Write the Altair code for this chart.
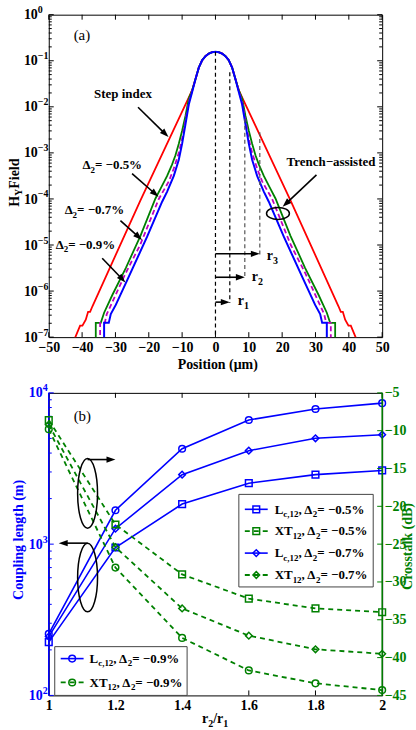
import math
import altair as alt
import pandas as pd

FONT = "Liberation Serif"
BLUE, GREEN, RED, MAG = "#0000ff", "#008000", "#ff0000", "#bf00bf"

# ---------------- Panel (a): H_Y field profiles (position in um, log10 of field)
RED_POS = [-42.6, -40.6, -39.9, -38.9, -38.2, -37.6, -36.9, -22.5, -7.5, -7, -6,
           -5, -4, -3, -2, -1, 0, 1, 2, 3, 4, 5,
           6, 7, 7.5, 22.5, 36.9, 37.6, 38.2, 38.9, 39.9, 40.6, 42.6]
RED_LOG = [-7.1, -6.75, -6.75, -6.62, -6.45, -6.45, -6.33, -4.03, -1.72, -1.64, -1.40,
           -1.15, -0.99, -0.90, -0.845, -0.815, -0.806, -0.815, -0.845, -0.90, -0.99, -1.15,
           -1.40, -1.64, -1.72, -4.03, -6.33, -6.45, -6.45, -6.62, -6.75, -6.75, -7.1]

GREEN_POS = [-35.9, -35.9, -34.4, -33.4, -30.9, -26.9, -22.5, -18, -16.5, -14.5, -13, -12, -11, -10, -9, -8, -7, -6,
             -5, -4, -3, -2, -1, 0, 1, 2, 3, 4, 5,
             6, 7, 8, 9, 10, 11, 12, 13, 14.5, 16.5, 18, 22.5, 26.9, 30.9, 33.4, 34.4, 35.9, 35.9]
GREEN_LOG = [-7.3, -6.69, -6.69, -6.47, -6.08, -5.5, -4.8, -3.99, -3.78, -3.5, -3.25, -3.05, -2.8, -2.52, -2.2, -1.82, -1.64, -1.40,
             -1.15, -0.99, -0.90, -0.845, -0.815, -0.806, -0.815, -0.845, -0.90, -0.99, -1.15,
             -1.40, -1.64, -1.82, -2.2, -2.52, -2.8, -3.05, -3.25, -3.5, -3.78, -3.99, -4.8, -5.5, -6.08, -6.47, -6.69, -6.69, -7.3]

MAG_POS = [-34.6, -34.6, -33.2, -32.6, -31, -27, -22.6, -17, -14, -12.5, -11, -10, -9, -8, -7, -6,
           -5, -4, -3, -2, -1, 0, 1, 2, 3, 4, 5,
           6, 7, 8, 9, 10, 11, 12.5, 14, 17, 22.6, 27, 31, 32.6, 33.2, 34.6, 34.6]
MAG_LOG = [-7.3, -6.69, -6.69, -6.5, -6.25, -5.62, -5.0, -4.0, -3.62, -3.34, -3.0, -2.7, -2.3, -1.9, -1.66, -1.40,
           -1.15, -0.99, -0.90, -0.845, -0.815, -0.806, -0.815, -0.845, -0.90, -0.99, -1.15,
           -1.40, -1.66, -1.9, -2.3, -2.7, -3.0, -3.34, -3.62, -4.0, -5.0, -5.62, -6.25, -6.5, -6.69, -6.69, -7.3]

BLUE_POS = [-33.4, -33.4, -32, -31.4, -29.9, -26.4, -20.5, -16, -14.5, -12.5, -11, -10, -9, -8, -7, -6,
            -5, -4, -3, -2, -1, 0, 1, 2, 3, 4, 5,
            6, 7, 8, 9, 10, 11, 12.5, 14.5, 16, 20.5, 26.4, 29.9, 31.4, 32, 33.4, 33.4]
BLUE_LOG = [-7.3, -6.69, -6.69, -6.5, -6.3, -5.75, -4.82, -4.06, -3.84, -3.5, -3.15, -2.8, -2.38, -1.95, -1.68, -1.40,
            -1.15, -0.99, -0.90, -0.845, -0.815, -0.806, -0.815, -0.845, -0.90, -0.99, -1.15,
            -1.40, -1.68, -1.95, -2.38, -2.8, -3.15, -3.5, -3.84, -4.06, -4.82, -5.75, -6.3, -6.5, -6.69, -6.69, -7.3]

R_POS = [0, 4.3, 8.8, 13.3]             # dashed guide lines (0, r1, r2, r3)
R_TOP = [-0.806, -1.25, -2.26, -2.55]
R_BOT = [-7.0, -6.26, -5.72, -5.21]
R_ARROW_LOG = [-6.24, -5.70, -5.19]     # r1, r2, r3 arrow heights

XTICKS_A = [-50, -40, -30, -20, -10, 0, 10, 20, 30, 40, 50]
YEXP_A = [0, -1, -2, -3, -4, -5, -6, -7]
YEXP_A_LABELS = ["0", "−1", "−2", "−3", "−4", "−5", "−6", "−7"]

# ---------------- Panel (b): coupling length and crosstalk vs r2/r1
R_RATIO = [1.0, 1.2, 1.4, 1.6, 1.8, 2.0]
LC_05 = [225, 950, 1840, 2530, 2880, 3070]
LC_07 = [245, 1265, 2880, 4150, 5010, 5290]
LC_09 = [255, 1675, 4270, 6620, 7820, 8550]
XT_05 = [-8.6, -22.4, -29.0, -32.2, -33.5, -34.0]
XT_07 = [-9.2, -25.4, -33.5, -37.1, -38.9, -39.5]
XT_09 = [-9.8, -28.1, -37.4, -41.7, -43.4, -44.3]
XTICKS_B = [1, 1.2, 1.4, 1.6, 1.8, 2]
YTICKS_BR = [-45, -40, -35, -30, -25, -20, -15, -10, -5]
YEXP_B = [2, 3, 4]

# ---------------- layout
W, HA, HB = 335, 324, 304
OX, OYA, OYB = 48, 12, 392

CW = {' ': 0.25, '%': 1.0, '(': 0.333, ')': 0.333, ',': 0.25, '−': 0.57, '.': 0.25, '/': 0.278,
      '=': 0.57, 'Δ': 0.612, 'μ': 0.556, 'B': 0.667, 'C': 0.722, 'F': 0.611, 'H': 0.778,
      'L': 0.667, 'P': 0.611, 'S': 0.556, 'T': 0.667, 'X': 0.722, 'Y': 0.722, 'a': 0.5,
      'b': 0.556, 'c': 0.444, 'd': 0.556, 'e': 0.444, 'g': 0.5, 'h': 0.556, 'i': 0.278,
      'k': 0.556, 'l': 0.278, 'm': 0.833, 'n': 0.556, 'o': 0.5, 'p': 0.556, 'r': 0.444,
      's': 0.389, 't': 0.333, 'u': 0.556, 'x': 0.5}


def tw(s, size):
    return sum(CW.get(ch, 0.5) for ch in s) * size


def run(x0, yc, parts, color, oy, size=13, sub=9):
    rows, x, base = [], x0, yc + 0.33 * size
    for t, k in parts:
        s = size if k == 'n' else sub
        y = base if k == 'n' else base + 0.27 * size
        rows.append({'x': x - OX, 'y': y - oy, 't': t, 's': s, 'c': color})
        x += tw(t, s)
    return rows


def vrun(xc, y0, parts, color, oy, size=14, sub=10):
    rows, y, bx = [], y0, xc + 0.33 * size
    for t, k in parts:
        s = size if k == 'n' else sub
        x = bx if k == 'n' else bx + 0.27 * size
        rows.append({'x': x - OX, 'y': y - oy, 't': t, 's': s, 'c': color})
        y -= tw(t, s)
    return rows


def PX(f):
    return alt.X(f, scale=None, axis=None)


def PY(f):
    return alt.Y(f, scale=None, axis=None)


def text_layer(rows, angle=0, weight='bold'):
    kw = dict(align='left', baseline='alphabetic', font=FONT, fontWeight=weight)
    if angle:
        kw['angle'] = angle
    return alt.Chart(pd.DataFrame(rows)).mark_text(**kw).encode(
        x=PX('x:Q'), y=PY('y:Q'), text='t:N',
        size=alt.Size('s:Q', scale=None), color=alt.Color('c:N', scale=None))


HEAD = "M0,0L0.7,2L-0.7,2Z"


def arrows(arrs, oy, hl=9, sw=1.6):
    rr, hh = [], []
    for (x1, y1, x2, y2) in arrs:
        dx, dy = x2 - x1, y2 - y1
        L = math.hypot(dx, dy)
        ux, uy = dx / L, dy / L
        rr.append({'x': x1 - OX, 'y': y1 - oy, 'x2': x2 - OX - ux * hl * 0.6, 'y2': y2 - oy - uy * hl * 0.6})
        hh.append({'x': x2 - OX, 'y': y2 - oy, 'a': (math.degrees(math.atan2(dx, -dy)) + 360) % 360})
    rules = alt.Chart(pd.DataFrame(rr)).mark_rule(color='black', strokeWidth=sw).encode(
        x=PX('x:Q'), y=PY('y:Q'), x2='x2:Q', y2='y2:Q')
    heads = alt.Chart(pd.DataFrame(hh)).mark_point(
        shape=HEAD, size=hl * hl, filled=True, color='black', opacity=1, strokeWidth=0).encode(
        x=PX('x:Q'), y=PY('y:Q'), angle=alt.Angle('a:Q', scale=None))
    return [rules, heads]


def ellipse(cx, cy, rx, ry, oy, sw=1.5):
    m = max(rx, ry)
    a, b = rx / m, ry / m
    path = f"M{-a:.3f},0A{a:.3f},{b:.3f},0,1,0,{a:.3f},0A{a:.3f},{b:.3f},0,1,0,{-a:.3f},0Z"
    return alt.Chart(pd.DataFrame({'x': [cx - OX], 'y': [cy - oy]})).mark_point(
        shape=path, size=(2 * m) ** 2, filled=False, color='black', strokeWidth=sw, opacity=1).encode(
        x=PX('x:Q'), y=PY('y:Q'))


def xa(p):
    return OX + (p + 50) / 100 * W


def ya(lg):
    return OYA - lg / 7 * HA


# ================= Panel (a)
xA = alt.Scale(domain=[-50, 50], nice=False, zero=False)
yA = alt.Scale(type='log', domain=[1e-7, 1], nice=False)
axA = alt.Axis(values=XTICKS_A, format='d', title=None, domain=False, ticks=False, grid=False,
               labelFlush=False, labelOverlap=False, labelPadding=3, labelFont=FONT,
               labelFontWeight='bold', labelFontSize=14, labelColor='black')


def XA():
    return alt.X('pos:Q', scale=xA, axis=axA)


def YA(f='H:Q'):
    return alt.Y(f, scale=yA, axis=None)


def curve(pos, lg, color, dash=None, sw=1.8):
    df = pd.DataFrame({'pos': pos, 'H': [10 ** v for v in lg], 'i': list(range(len(pos)))})
    kw = dict(color=color, strokeWidth=sw, clip=True)
    if dash:
        kw['strokeDash'] = dash
    return alt.Chart(df).mark_line(**kw).encode(x=XA(), y=YA(), order='i:Q')


bound = alt.Chart(pd.DataFrame({'k': [0]})).mark_rect(opacity=0).encode(
    x=alt.value(-OX), x2=alt.value(416 - OX), y=alt.value(-OYA), y2=alt.value(730 - OYA))

rdf = pd.DataFrame({'pos': R_POS, 'H': [10 ** v for v in R_TOP], 'H2': [10 ** v for v in R_BOT],
                    'c': ['black', 'black', '#555555', '#555555']})
rlines = alt.Chart(rdf).mark_rule(strokeDash=[4, 3], strokeWidth=1.2).encode(
    x=XA(), y=YA(), y2='H2:Q', color=alt.Color('c:N', scale=None))

tA = pd.DataFrame({'pos': XTICKS_A})
a_ticks = [
    alt.Chart(tA).mark_rule(color='black').encode(x=XA(), y=alt.value(HA), y2=alt.value(HA - 5)),
    alt.Chart(tA).mark_rule(color='black').encode(x=XA(), y=alt.value(0), y2=alt.value(5)),
]
majA = pd.DataFrame({'H': [10.0 ** e for e in YEXP_A]})
minA = pd.DataFrame({'H': [m * 10.0 ** e for e in range(-7, 0) for m in range(2, 10)]})
for df, L in ((majA, 5), (minA, 3)):
    a_ticks.append(alt.Chart(df).mark_rule(color='black').encode(y=YA(), x=alt.value(0), x2=alt.value(L)))
    a_ticks.append(alt.Chart(df).mark_rule(color='black').encode(y=YA(), x=alt.value(W - L), x2=alt.value(W)))

labA = pd.DataFrame({'H': [10.0 ** e for e in YEXP_A], 'e': YEXP_A_LABELS})
a_labels = [
    alt.Chart(labA).mark_text(align='left', baseline='alphabetic', font=FONT, fontWeight='bold',
                              fontSize=14, dy=4.6, color='black').encode(
        y=YA(), x=alt.value(-25), text=alt.value('10')),
    alt.Chart(labA).mark_text(align='left', baseline='alphabetic', font=FONT, fontWeight='bold',
                              fontSize=10, dy=-1.5, color='black').encode(
        y=YA(), x=alt.value(-11), text='e:N'),
]

txtA = []
txtA += run(93.5, 91.5, [("Step index", 'n')], 'black', OYA)
txtA += run(82, 163, [("Δ", 'n'), ("2", 'sub'), ("= −0.5%", 'n')], 'black', OYA)
txtA += run(64, 208, [("Δ", 'n'), ("2", 'sub'), ("= −0.7%", 'n')], 'black', OYA)
txtA += run(55, 243, [("Δ", 'n'), ("2", 'sub'), ("= −0.9%", 'n')], 'black', OYA)
txtA += run(287, 160, [("Trench−assisted", 'n')], 'black', OYA)
txtA += run(267, 254, [("r", 'n'), ("3", 'sub')], 'black', OYA, size=14, sub=10)
txtA += run(252, 275, [("r", 'n'), ("2", 'sub')], 'black', OYA, size=14, sub=10)
txtA += run(238, 299, [("r", 'n'), ("1", 'sub')], 'black', OYA, size=14, sub=10)
txtA += run(177.5, 363, [("Position (μm)", 'n')], 'black', OYA, size=14)
vA = vrun(13, 205, [("H", 'n'), ("Y", 'sub'), (" Field", 'n')], 'black', OYA)
lblA = run(73, 32, [("(a)", 'n')], 'black', OYA, size=15)

arrA = [(137.7, 105, 168.3, 135), (131.7, 171.7, 158.3, 195), (120, 219, 141.7, 238.3),
        (101.7, 256.7, 125, 281), (317, 173, 283, 205)]
for r, lg in zip(R_POS[1:], R_ARROW_LOG):
    arrA.append((xa(0), ya(lg), xa(r), ya(lg)))

panelA = alt.layer(
    bound,
    curve(RED_POS, RED_LOG, RED),
    curve(GREEN_POS, GREEN_LOG, GREEN),
    curve(MAG_POS, MAG_LOG, MAG, dash=[5, 3]),
    curve(BLUE_POS, BLUE_LOG, BLUE, sw=2),
    rlines,
    *a_ticks,
    *a_labels,
    *arrows(arrA, OYA),
    ellipse(278.3, 211.7, 11.5, 6, OYA),
    text_layer(txtA),
    text_layer(vA, angle=270),
    text_layer(lblA, weight='normal'),
).properties(width=W, height=HA)

# ================= Panel (b)
xB = alt.Scale(domain=[1, 2], nice=False, zero=False)
yBL = alt.Scale(type='log', domain=[100, 10000], nice=False)
yBR = alt.Scale(domain=[-45, -5], nice=False, zero=False)
axB = alt.Axis(values=XTICKS_B, format='~g', title=None, domain=False, ticks=False, grid=False,
               labelFlush=False, labelOverlap=False, labelPadding=3, labelFont=FONT,
               labelFontWeight='bold', labelFontSize=14, labelColor='black')
axR = alt.Axis(orient='right', values=YTICKS_BR, format='d', title=None, domain=False, ticks=False,
               grid=False, labelFlush=False, labelOverlap=False, labelPadding=2, labelFont=FONT,
               labelFontWeight='bold', labelFontSize=14, labelColor=GREEN)


def XB():
    return alt.X('r:Q', scale=xB, axis=axB)


def YL():
    return alt.Y('L:Q', scale=yBL, axis=None)


def YR():
    return alt.Y('XT:Q', scale=yBR, axis=axR)


lc = pd.DataFrame({'r': R_RATIO * 3, 'L': LC_05 + LC_07 + LC_09,
                   's': ['05'] * 6 + ['07'] * 6 + ['09'] * 6,
                   'mk': ['square'] * 6 + ['diamond'] * 6 + ['circle'] * 6})
xt = pd.DataFrame({'r': R_RATIO * 3, 'XT': XT_05 + XT_07 + XT_09,
                   's': ['05'] * 6 + ['07'] * 6 + ['09'] * 6,
                   'mk': ['square'] * 6 + ['diamond'] * 6 + ['circle'] * 6})

lc_lines = alt.Chart(lc).mark_line(color=BLUE, strokeWidth=1.6).encode(x=XB(), y=YL(), detail='s:N')
lc_pts = alt.Chart(lc).mark_point(color=BLUE, filled=False, strokeWidth=1.5, size=45, opacity=1).encode(
    x=XB(), y=YL(), shape=alt.Shape('mk:N', scale=None))
xt_lines = alt.Chart(xt).mark_line(color=GREEN, strokeWidth=1.8, strokeDash=[5, 4]).encode(
    x=XB(), y=YR(), detail='s:N')
xt_pts = alt.Chart(xt).mark_point(color=GREEN, filled=False, strokeWidth=1.5, size=45, opacity=1).encode(
    x=XB(), y=YR(), shape=alt.Shape('mk:N', scale=None))

tB = pd.DataFrame({'r': XTICKS_B})
majB = pd.DataFrame({'L': [10.0 ** e for e in YEXP_B]})
minB = pd.DataFrame({'L': [m * 10.0 ** e for e in (2, 3) for m in range(2, 10)]})
left_ticks = [
    alt.Chart(tB).mark_rule(color='black').encode(x=XB(), y=alt.value(HB), y2=alt.value(HB - 5)),
    alt.Chart(tB).mark_rule(color='black').encode(x=XB(), y=alt.value(0), y2=alt.value(5)),
    alt.Chart(majB).mark_rule(color=BLUE).encode(y=YL(), x=alt.value(0), x2=alt.value(5)),
    alt.Chart(minB).mark_rule(color=BLUE).encode(y=YL(), x=alt.value(0), x2=alt.value(3)),
]
right_ticks = alt.Chart(pd.DataFrame({'XT': YTICKS_BR})).mark_rule(color=GREEN).encode(
    y=YR(), x=alt.value(W - 5), x2=alt.value(W))

labB = pd.DataFrame({'L': [10.0 ** e for e in YEXP_B], 'e': [str(e) for e in YEXP_B]})
left_labels = [
    alt.Chart(labB).mark_text(align='left', baseline='alphabetic', font=FONT, fontWeight='bold',
                              fontSize=14, dy=4.6, color=BLUE).encode(
        y=YL(), x=alt.value(-20), text=alt.value('10')),
    alt.Chart(labB).mark_text(align='left', baseline='alphabetic', font=FONT, fontWeight='bold',
                              fontSize=10, dy=-1.5, color=BLUE).encode(
        y=YL(), x=alt.value(-6), text='e:N'),
]
spines = [
    alt.Chart(pd.DataFrame({'k': [0]})).mark_rule(color=BLUE, strokeWidth=1.5).encode(
        x=alt.value(0), y=alt.value(0), y2=alt.value(HB)),
    alt.Chart(pd.DataFrame({'k': [0]})).mark_rule(color=GREEN, strokeWidth=1.5).encode(
        x=alt.value(W), y=alt.value(0), y2=alt.value(HB)),
]

# legends
boxes = pd.DataFrame({'x': [239 - OX, 54 - OX], 'x2': [374 - OX, 187 - OX],
                      'y': [494 - OYB, 647 - OYB], 'y2': [587 - OYB, 696 - OYB]})
leg_box = alt.Chart(boxes).mark_rect(fill='white', stroke='#444444', strokeWidth=1).encode(
    x=PX('x:Q'), x2='x2:Q', y=PY('y:Q'), y2='y2:Q')

leg_items = [  # (y, line x0, line x1, text x, kind, marker, pct)
    (509, 245, 268, 275, 'L', 'square', '0.5'),
    (531, 245, 268, 275, 'XT', 'square', '0.5'),
    (553, 245, 268, 275, 'L', 'diamond', '0.7'),
    (575, 245, 268, 275, 'XT', 'diamond', '0.7'),
    (659, 60, 83, 89, 'L', 'circle', '0.9'),
    (683, 60, 83, 89, 'XT', 'circle', '0.9'),
]
leg_solid, leg_dash, leg_pts, leg_txt = [], [], [], []
for (y, x0, x1, tx, kind, mk, pct) in leg_items:
    row = {'x': x0 - OX, 'x2': x1 - OX, 'y': y - OYB}
    (leg_solid if kind == 'L' else leg_dash).append(row)
    leg_pts.append({'x': (x0 + x1) / 2 - OX, 'y': y - OYB, 'mk': mk,
                    'c': BLUE if kind == 'L' else GREEN})
    if kind == 'L':
        parts = [("L", 'n'), ("c,12", 'sub'), (", Δ", 'n'), ("2", 'sub'), ("= −" + pct + "%", 'n')]
    else:
        parts = [("XT", 'n'), ("12", 'sub'), (", Δ", 'n'), ("2", 'sub'), ("= −" + pct + "%", 'n')]
    leg_txt += run(tx, y, parts, 'black', OYB)

leg_layers = [
    leg_box,
    alt.Chart(pd.DataFrame(leg_solid)).mark_rule(color=BLUE, strokeWidth=1.6).encode(
        x=PX('x:Q'), x2='x2:Q', y=PY('y:Q')),
    alt.Chart(pd.DataFrame(leg_dash)).mark_rule(color=GREEN, strokeWidth=1.8, strokeDash=[5, 4]).encode(
        x=PX('x:Q'), x2='x2:Q', y=PY('y:Q')),
    alt.Chart(pd.DataFrame(leg_pts)).mark_point(filled=False, strokeWidth=1.5, size=45, opacity=1).encode(
        x=PX('x:Q'), y=PY('y:Q'), shape=alt.Shape('mk:N', scale=None), color=alt.Color('c:N', scale=None)),
    text_layer(leg_txt),
]

txtB = run(202, 719, [("r", 'n'), ("2", 'sub'), ("/r", 'n'), ("1", 'sub')], 'black', OYB, size=14, sub=10)
vB = vrun(17, 600, [("Coupling length (m)", 'n')], BLUE, OYB)
vB += vrun(408, 590, [("Crosstalk (dB)", 'n')], GREEN, OYB)
lblB = run(73, 415, [("(b)", 'n')], 'black', OYB, size=15)

left_group = alt.layer(lc_lines, lc_pts, *left_ticks, *left_labels, *spines)
right_group = alt.layer(
    xt_lines, xt_pts, right_ticks,
    *leg_layers,
    *arrows([(87, 459, 115, 459), (87, 543, 58, 543)], OYB),
    ellipse(87, 493, 10, 35, OYB),
    ellipse(87, 577.5, 10, 34.5, OYB),
    text_layer(txtB),
    text_layer(vB, angle=270),
    text_layer(lblB, weight='normal'),
)
panelB = alt.layer(left_group, right_group).resolve_scale(y='independent').properties(width=W, height=HB)

chart = alt.vconcat(panelA, panelB, spacing=HB * 0 + (OYB - OYA - HA), bounds='flush').properties(
    padding=0, background='white'
).configure_view(stroke='black', strokeWidth=1)

chart.save("out.html", embed_options={"renderer": "svg", "actions": False})
